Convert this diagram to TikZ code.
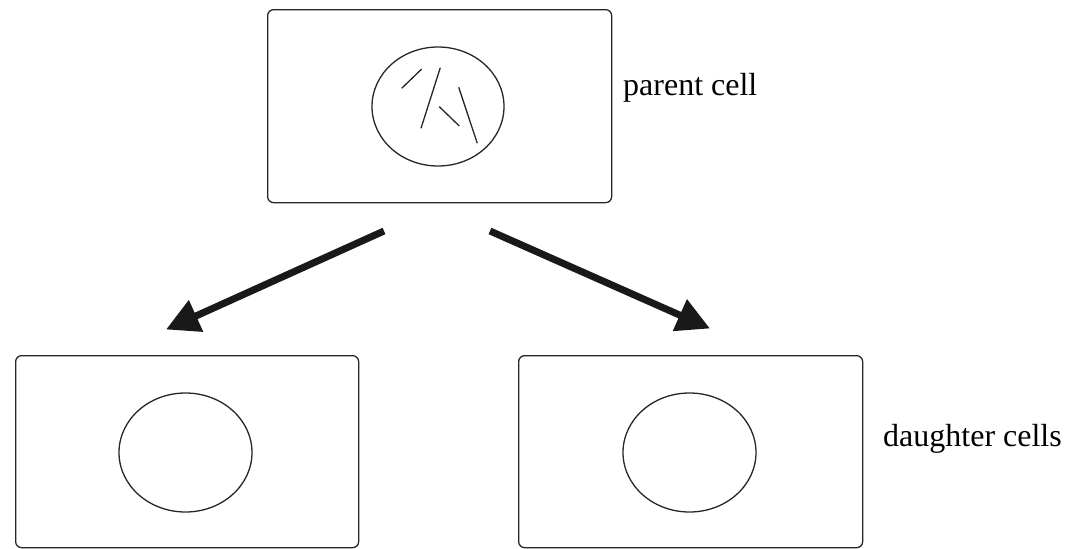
\documentclass[tikz,border=0pt]{standalone}
\usepackage{fontspec}
\setmainfont{Liberation Serif}
\usetikzlibrary{shapes.geometric,arrows.meta}
\begin{document}
\begin{tikzpicture}[x=1pt,y=-1pt,
  cellbox/.style={draw=black!85,line width=1.3pt,rounded corners=6pt,inner sep=0pt,anchor=north west},
  nucleus/.style={draw=black!85,line width=1.3pt,ellipse,inner sep=0pt,minimum width=133pt,minimum height=119pt},
  chromo/.style={draw=black!85,line width=1.3pt},
  bigarrow/.style={draw=black!90,line width=7pt,-{Triangle[length=33pt,width=33pt]}},
  lbl/.style={font=\fontsize{32}{38}\selectfont,anchor=base west,inner sep=0pt}]
\useasboundingbox (0,0) rectangle (1069,549);
% parent cell
\node[cellbox,minimum width=344pt,minimum height=193pt] (parent) at (267,9) {};
\node[nucleus,minimum width=132pt] (pnuc) at (438,106.5) {};
\coordinate (c1a) at (401.7,88.3); \coordinate (c1b) at (421.7,69);
\coordinate (c2a) at (440.3,67.7); \coordinate (c2b) at (421,128.3);
\coordinate (c3a) at (439.3,106.7); \coordinate (c3b) at (459.3,126);
\coordinate (c4a) at (458.7,87.3); \coordinate (c4b) at (477.3,143.3);
\draw[chromo] (c1a) -- (c1b);
\draw[chromo] (c2a) -- (c2b);
\draw[chromo] (c3a) -- (c3b);
\draw[chromo] (c4a) -- (c4b);
\node[lbl] (plbl) at (623,95) {parent cell};
% daughter cells
\node[cellbox,minimum width=343pt,minimum height=192pt] (dleft) at (15,355) {};
\node[nucleus] (lnuc) at (185.5,452.5) {};
\node[cellbox,minimum width=344pt,minimum height=192pt] (dright) at (518,355) {};
\node[nucleus] (rnuc) at (689.5,452.5) {};
\node[lbl] (dlbl) at (883,446.7) {daughter cells};
% arrows
\coordinate (la) at (384,231); \coordinate (lt) at (166,329.5);
\coordinate (ra) at (490,231); \coordinate (rt) at (710,328.5);
\draw[bigarrow] (la) -- (lt);
\draw[bigarrow] (ra) -- (rt);
\end{tikzpicture}
\end{document}
